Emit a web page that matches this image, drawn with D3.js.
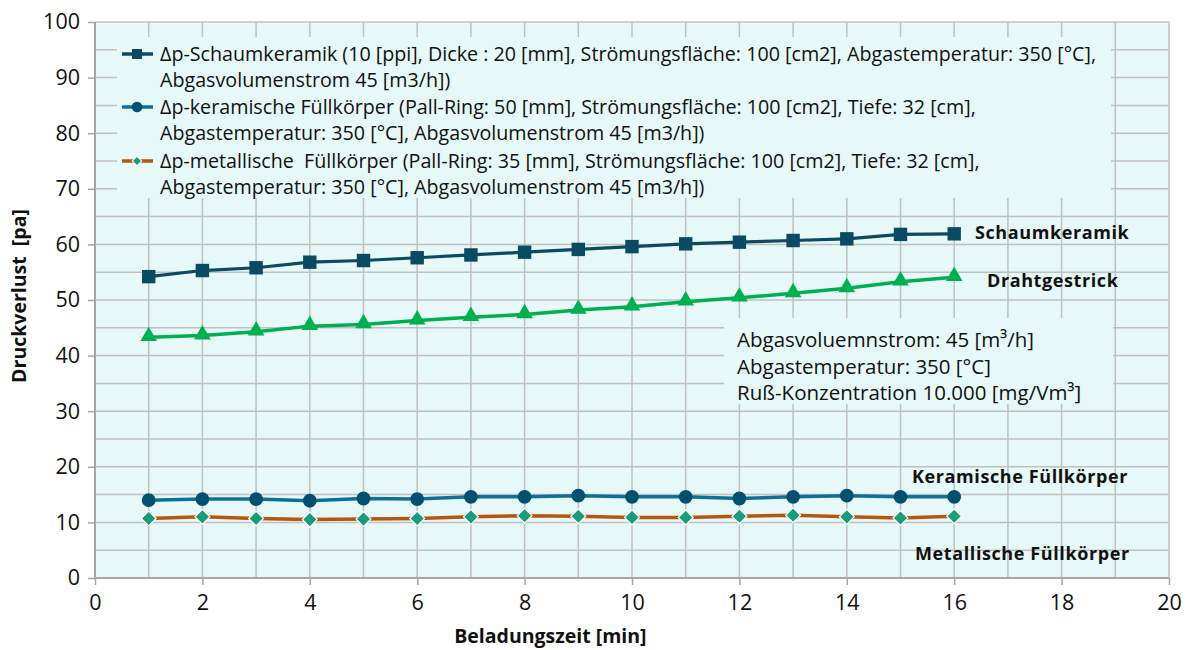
<!DOCTYPE html>
<html>
<head>
<meta charset="utf-8">
<script src="https://cdnjs.cloudflare.com/ajax/libs/d3/7.8.5/d3.min.js"></script>
<style>
  body { margin: 0; background: #fff; }
  text { font-family: "Open Sans", "Noto Sans", sans-serif; fill: #111; }
  .tick text { font-size: 21.5px; }
  .legend text { font-size: 19.7px; white-space: pre; }
  .info text { font-size: 20.5px; }
  .label { font-size: 18px; font-weight: bold; letter-spacing: 0.6px; }
  .axistitle { font-size: 19.5px; font-weight: bold; white-space: pre; }
</style>
</head>
<body>
<div id="chart"></div>
<script>
// Daten
var zeit = [1, 2, 3, 4, 5, 6, 7, 8, 9, 10, 11, 12, 13, 14, 15, 16];
var schaumkeramik = [54.2, 55.3, 55.8, 56.8, 57.1, 57.6, 58.1, 58.6, 59.1, 59.6, 60.1, 60.4, 60.7, 61.0, 61.8, 61.9];
var drahtgestrick = [43.3, 43.6, 44.3, 45.3, 45.6, 46.3, 46.9, 47.4, 48.2, 48.8, 49.7, 50.4, 51.2, 52.1, 53.3, 54.1];
var keramisch = [14.0, 14.2, 14.2, 13.9, 14.3, 14.2, 14.6, 14.6, 14.8, 14.6, 14.6, 14.3, 14.6, 14.8, 14.6, 14.6];
var metallisch = [10.7, 11.0, 10.7, 10.5, 10.6, 10.7, 11.0, 11.2, 11.1, 10.9, 10.9, 11.1, 11.3, 11.0, 10.8, 11.1];

var xTicks = [0, 2, 4, 6, 8, 10, 12, 14, 16, 18, 20];
var yTicks = [0, 10, 20, 30, 40, 50, 60, 70, 80, 90, 100];

var legendLines = [
    ["Δp-Schaumkeramik (10 [ppi], Dicke : 20 [mm], Strömungsfläche: 100 [cm2], Abgastemperatur: 350 [°C],", "Abgasvolumenstrom 45 [m3/h])"],
    ["Δp-keramische Füllkörper (Pall-Ring: 50 [mm], Strömungsfläche: 100 [cm2], Tiefe: 32 [cm],", "Abgastemperatur: 350 [°C], Abgasvolumenstrom 45 [m3/h])"],
    ["Δp-metallische  Füllkörper (Pall-Ring: 35 [mm], Strömungsfläche: 100 [cm2], Tiefe: 32 [cm],", "Abgastemperatur: 350 [°C], Abgasvolumenstrom 45 [m3/h])"]
];
var infoLines = ["Abgasvoluemnstrom: 45 [m³/h]", "Abgastemperatur: 350 [°C]", "Ruß-Konzentration 10.000 [mg/Vm³]"];

// Maße
var totalWidth = 1191, totalHeight = 650,
    margin = {top: 22, right: 22, bottom: 72, left: 95},
    width = totalWidth - margin.left - margin.right,
    height = totalHeight - margin.top - margin.bottom;

var x = d3.scaleLinear().domain([0, 20]).range([0, width]),
    y = d3.scaleLinear().domain([0, 100]).range([height, 0]);

var bg = "#e6f8f7", grid = "#c0c0c0", axisCol = "#a6a6a6";

var svg = d3.select("#chart").append("svg")
    .attr("width", totalWidth)
    .attr("height", totalHeight)
    .append("g")
        .attr("transform", "translate(" + margin.left + "," + margin.top + ")");

// Hintergrund
svg.append("rect")
    .attr("width", width)
    .attr("height", height)
    .attr("fill", bg);

// Gitterlinien
svg.append("g").selectAll("line")
    .data(d3.range(1, 21))
    .enter().append("line")
    .attr("x1", function(d) { return x(d); })
    .attr("x2", function(d) { return x(d); })
    .attr("y1", 0).attr("y2", height)
    .attr("stroke", grid).attr("stroke-width", 1.5);
svg.append("g").selectAll("line")
    .data(d3.range(5, 101, 5))
    .enter().append("line")
    .attr("y1", function(d) { return y(d); })
    .attr("y2", function(d) { return y(d); })
    .attr("x1", 0).attr("x2", width)
    .attr("stroke", grid).attr("stroke-width", 1.5);

// Legende (verdeckt das Gitter)
var legend = svg.append("g").attr("class", "legend");
legend.append("rect")
    .attr("x", 22).attr("y", 15)
    .attr("width", 994).attr("height", 161)
    .attr("fill", bg);

// Infobox
var info = svg.append("g").attr("class", "info");
info.append("rect")
    .attr("x", 629).attr("y", 296)
    .attr("width", 389).attr("height", 86)
    .attr("fill", bg);
info.selectAll("text")
    .data(infoLines)
    .enter().append("text")
    .attr("x", 642)
    .attr("y", function(d, i) { return 325 + i * 26.5; })
    .text(function(d) { return d; });

// Achsen
var yAxis = svg.append("g")
    .call(d3.axisLeft(y).tickValues(yTicks).tickSize(7).tickPadding(8));
var xAxis = svg.append("g")
    .attr("transform", "translate(0," + height + ")")
    .call(d3.axisBottom(x).tickValues(xTicks).tickSize(7).tickPadding(10));
svg.selectAll(".domain").attr("stroke", axisCol).attr("stroke-width", 2);
svg.selectAll(".tick line").attr("stroke", axisCol).attr("stroke-width", 1.5);
yAxis.selectAll(".domain").attr("d", "M0," + height + "V0");
xAxis.selectAll(".domain").attr("d", "M0,0H" + width);

// Reihen
var reihen = [
    {name: "schaum", werte: schaumkeramik, line: "#0b4a63", fill: "#0b4a63", stroke: "none", sym: d3.symbolSquare, size: 180, rot: 0, lw: 3.2},
    {name: "keram", werte: keramisch, line: "#0e6f98", fill: "#01506f", stroke: "none", sym: d3.symbolCircle, size: 150, rot: 0, lw: 3.5},
    {name: "metall", werte: metallisch, line: "#b5560f", fill: "#1a9c7a", stroke: "#fff", sym: d3.symbolSquare, size: 110, rot: 45, lw: 3.5},
    {name: "draht", werte: drahtgestrick, line: "#00b050", fill: "#00b050", stroke: "none", sym: d3.symbolTriangle, size: 120, rot: 0, lw: 3.5}
];

var line = d3.line()
    .x(function(d) { return x(d[0]); })
    .y(function(d) { return y(d[1]); });

reihen.forEach(function(r) {
    var pts = d3.zip(zeit, r.werte);
    svg.append("path")
        .datum(pts)
        .attr("d", line)
        .attr("fill", "none")
        .attr("stroke", r.line)
        .attr("stroke-width", r.lw);
    svg.append("g").selectAll("path")
        .data(pts)
        .enter().append("path")
        .attr("d", d3.symbol().type(r.sym).size(r.size))
        .attr("transform", function(d) {
            var dy = r.sym === d3.symbolTriangle ? -1 : 0;
            return "translate(" + x(d[0]) + "," + (y(d[1]) + dy) + ") rotate(" + r.rot + ")";
        })
        .attr("fill", r.fill)
        .attr("stroke", r.stroke)
        .attr("stroke-width", 1.2);
});

// Legendeneinträge
legendLines.forEach(function(zeilen, i) {
    var r = reihen[i], yy = [32, 85, 139][i];
    legend.append("line")
        .attr("x1", 27).attr("x2", 58)
        .attr("y1", yy).attr("y2", yy)
        .attr("stroke", r.line).attr("stroke-width", 3.5);
    legend.append("path")
        .attr("d", d3.symbol().type(r.sym).size([100, 90, 45][i]))
        .attr("transform", "translate(42," + yy + ") rotate(" + r.rot + ")")
        .attr("fill", r.fill)
        .attr("stroke", r.stroke)
        .attr("stroke-width", 1);
    zeilen.forEach(function(t, j) {
        legend.append("text")
            .attr("x", 65)
            .attr("y", yy + 7 + j * 26)
            .text(t);
    });
});

// Beschriftungen der Reihen
var labels = [
    {t: "Schaumkeramik", x: 880, y: 217},
    {t: "Drahtgestrick", x: 892, y: 265},
    {t: "Keramische Füllkörper", x: 817, y: 461},
    {t: "Metallische Füllkörper", x: 820, y: 538}
];
svg.selectAll(".label")
    .data(labels)
    .enter().append("text")
    .attr("class", "label")
    .attr("x", function(d) { return d.x; })
    .attr("y", function(d) { return d.y; })
    .text(function(d) { return d.t; });

// Achsentitel
svg.append("text")
    .attr("class", "axistitle")
    .attr("text-anchor", "middle")
    .attr("transform", "translate(-69," + (height / 2 - 4) + ") rotate(-90)")
    .text("Druckverlust  [pa]");
svg.append("text")
    .attr("class", "axistitle")
    .attr("text-anchor", "middle")
    .attr("x", x(8.48))
    .attr("y", height + 65)
    .text("Beladungszeit [min]");
</script>
</body>
</html>
